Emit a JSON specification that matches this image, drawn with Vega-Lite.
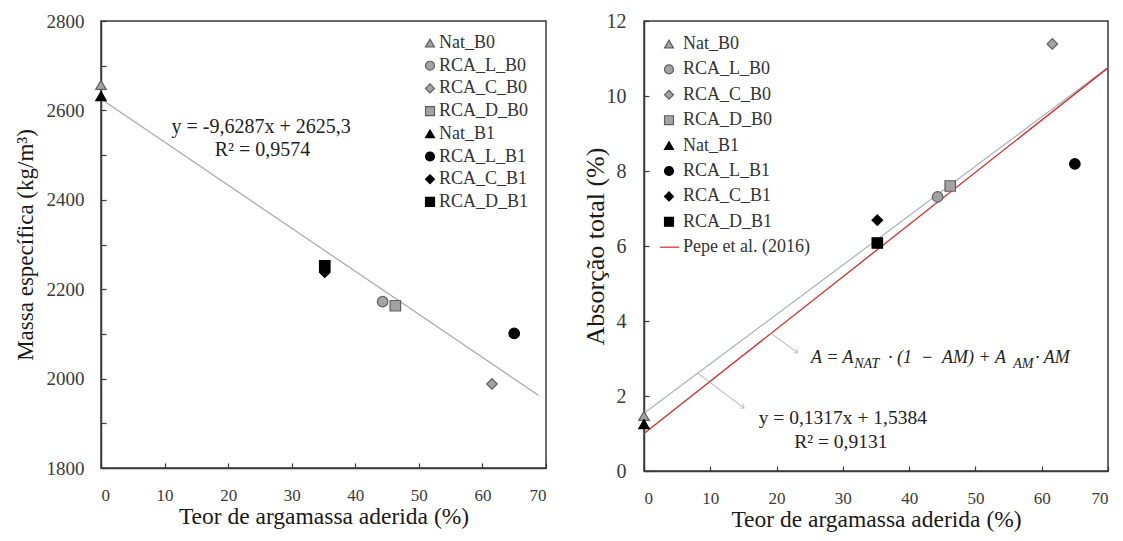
{
  "$schema": "https://vega.github.io/schema/vega-lite/v6.json",
  "padding": {"left": 13, "top": 10, "right": 6, "bottom": 6},
  "background": "white",
  "config": {
    "font": "Liberation Serif, Times New Roman, serif",
    "view": {"stroke": "#3a3a3a", "strokeWidth": 1.5},
    "axis": {
      "grid": false,
      "domainColor": "#3a3a3a",
      "domainWidth": 1.5,
      "tickColor": "#3a3a3a",
      "tickWidth": 1.2,
      "tickSize": -5,
      "labelFont": "Liberation Serif, Times New Roman, serif",
      "labelColor": "#3a3a3a",
      "titleFont": "Liberation Serif, Times New Roman, serif",
      "titleFontWeight": "normal",
      "titleColor": "#1a1a1a",
      "titleFontSize": 23.5
    },
    "axisX": {"labelFontSize": 17, "labelPadding": 24, "titlePadding": 1, "labelAngle": 0},
    "legend": {
      "labelFont": "Liberation Serif, Times New Roman, serif",
      "labelFontSize": 18,
      "labelColor": "#333333",
      "symbolSize": 80,
      "symbolStrokeWidth": 1.2,
      "padding": 0
    }
  },
  "datasets": {
    "left": [
      {"series": "Nat_B0", "x": 0, "y": 2657},
      {"series": "Nat_B1", "x": 0, "y": 2632},
      {"series": "RCA_D_B1", "x": 35.2, "y": 2252},
      {"series": "RCA_C_B1", "x": 35.2, "y": 2238},
      {"series": "RCA_L_B0", "x": 44.3, "y": 2172},
      {"series": "RCA_D_B0", "x": 46.3, "y": 2163},
      {"series": "RCA_C_B0", "x": 61.5, "y": 1988},
      {"series": "RCA_L_B1", "x": 65.0, "y": 2101}
    ],
    "right": [
      {"series": "Nat_B0", "x": 0, "y": 1.47},
      {"series": "Nat_B1", "x": 0, "y": 1.25},
      {"series": "RCA_D_B1", "x": 35.2, "y": 6.08},
      {"series": "RCA_C_B1", "x": 35.2, "y": 6.69},
      {"series": "RCA_L_B0", "x": 44.3, "y": 7.31},
      {"series": "RCA_D_B0", "x": 46.2, "y": 7.6},
      {"series": "RCA_C_B0", "x": 61.6, "y": 11.39},
      {"series": "RCA_L_B1", "x": 65.0, "y": 8.19}
    ],
    "leftTrend": [{"x": 0, "y": 2625.3}, {"x": 68.8, "y": 1962.8}],
    "rightTrend": [{"x": 0, "y": 1.54}, {"x": 70, "y": 10.76}],
    "pepe": [{"x": 0, "y": 1.0}, {"x": 70, "y": 10.75}],
    "leftText": [
      {"text": "y = -9,6287x + 2625,3", "x": 25.2, "y": 2549},
      {"text": "R² = 0,9574", "x": 25.4, "y": 2498}
    ],
    "rightText": [
      {"text": "y = 0,1317x + 1,5384", "x": 30.0, "y": 1.25},
      {"text": "R² = 0,9131", "x": 29.7, "y": 0.61}
    ],
    "formulaMain": [
      {"text": "A = A", "x": 25.2, "y": 2.88},
      {"text": "· (1\u2002−\u2002AM) + A", "x": 36.8, "y": 2.88},
      {"text": "· AM", "x": 59.0, "y": 2.88}
    ],
    "formulaSub": [
      {"text": "NAT", "x": 31.7, "y": 2.76},
      {"text": "AM", "x": 55.7, "y": 2.76}
    ],
    "arrows": [
      {"x": 19.2, "y": 3.67, "x2": 23.2, "y2": 3.15},
      {"x": 8.1, "y": 2.61, "x2": 15.1, "y2": 1.68}
    ]
  },
  "hconcat": [
    {
      "width": 445,
      "height": 447,
      "layer": [
        {
          "data": {"name": "leftTrend"},
          "mark": {"type": "line", "color": "#a8a8a8", "strokeWidth": 1.2},
          "encoding": {
            "x": {"field": "x", "type": "quantitative", "scale": {"domain": [0, 70]},
              "axis": {"title": "Teor de argamassa aderida (%)", "values": [0,5,10,15,20,25,30,35,40,45,50,55,60,65,70], "labelExpr": "datum.value % 10 === 0 ? datum.label : ''"}},
            "y": {"field": "y", "type": "quantitative", "scale": {"domain": [1800, 2800]},
              "axis": {"title": "Massa específica (kg/m³)", "titleFontSize": 23, "labelFontSize": 19, "labelPadding": 22, "titlePadding": 9, "values": [1800,1900,2000,2100,2200,2300,2400,2500,2600,2700,2800], "labelExpr": "datum.value % 200 === 0 ? datum.value : ''"}}
          }
        },
        {
          "data": {"name": "left"},
          "mark": {"type": "point", "filled": true, "size": 110, "strokeWidth": 1.2, "opacity": 1},
          "encoding": {
            "x": {"field": "x", "type": "quantitative"},
            "y": {"field": "y", "type": "quantitative"},
            "shape": {"field": "series", "type": "nominal", "title": null,
              "scale": {"domain": ["Nat_B0","RCA_L_B0","RCA_C_B0","RCA_D_B0","Nat_B1","RCA_L_B1","RCA_C_B1","RCA_D_B1"],
                "range": ["triangle-up","circle","diamond","square","triangle-up","circle","diamond","square"]},
              "legend": {"orient": "none", "legendX": 320, "legendY": 13, "rowPadding": 4.7, "labelOffset": 0}},
            "fill": {"field": "series", "type": "nominal", "title": null,
              "scale": {"domain": ["Nat_B0","RCA_L_B0","RCA_C_B0","RCA_D_B0","Nat_B1","RCA_L_B1","RCA_C_B1","RCA_D_B1"],
                "range": ["#a3a3a3","#a3a3a3","#a3a3a3","#a3a3a3","#000000","#000000","#000000","#000000"]},
              "legend": {"orient": "none", "legendX": 320, "legendY": 13, "rowPadding": 4.7, "labelOffset": 0}},
            "stroke": {"field": "series", "type": "nominal", "title": null,
              "scale": {"domain": ["Nat_B0","RCA_L_B0","RCA_C_B0","RCA_D_B0","Nat_B1","RCA_L_B1","RCA_C_B1","RCA_D_B1"],
                "range": ["#5e5e5e","#5e5e5e","#5e5e5e","#5e5e5e","#000000","#000000","#000000","#000000"]},
              "legend": {"orient": "none", "legendX": 320, "legendY": 13, "rowPadding": 4.7, "labelOffset": 0}}
          }
        },
        {
          "data": {"name": "leftText"},
          "mark": {"type": "text", "font": "Liberation Serif, Times New Roman, serif", "fontSize": 20, "color": "#222222", "align": "center", "baseline": "alphabetic"},
          "encoding": {
            "x": {"field": "x", "type": "quantitative"},
            "y": {"field": "y", "type": "quantitative"},
            "text": {"field": "text"}
          }
        }
      ]
    },
    {
      "width": 464,
      "height": 450,
      "layer": [
        {
          "data": {"name": "rightTrend"},
          "mark": {"type": "line", "color": "#a9b3b6", "strokeWidth": 1.2},
          "encoding": {
            "x": {"field": "x", "type": "quantitative", "scale": {"domain": [0, 70]},
              "axis": {"title": "Teor de argamassa aderida (%)", "values": [0,5,10,15,20,25,30,35,40,45,50,55,60,65,70], "labelExpr": "datum.value % 10 === 0 ? datum.label : ''"}},
            "y": {"field": "y", "type": "quantitative", "scale": {"domain": [0, 12]},
              "axis": {"title": "Absorção total (%)", "titleFontSize": 26, "labelFontSize": 20, "labelPadding": 23, "titlePadding": -2, "values": [0,1,2,3,4,5,6,7,8,9,10,11,12], "labelExpr": "datum.value % 2 === 0 ? datum.label : ''"}}
          }
        },
        {
          "data": {"name": "pepe"},
          "mark": {"type": "line", "color": "#d42a2a", "strokeWidth": 1.3},
          "encoding": {
            "x": {"field": "x", "type": "quantitative"},
            "y": {"field": "y", "type": "quantitative"}
          }
        },
        {
          "data": {"name": "arrows"},
          "mark": {"type": "rule", "color": "#b0b0b0", "strokeWidth": 1},
          "encoding": {
            "x": {"field": "x", "type": "quantitative"},
            "y": {"field": "y", "type": "quantitative"},
            "x2": {"field": "x2"},
            "y2": {"field": "y2"}
          }
        },
        {
          "data": {"name": "arrows"},
          "mark": {"type": "point", "shape": "M -1 -0.8 L 0 0 L -1 0.8", "filled": false, "size": 50, "color": "#b0b0b0", "strokeWidth": 1, "angle": 36},
          "encoding": {
            "x": {"field": "x2", "type": "quantitative"},
            "y": {"field": "y2", "type": "quantitative"}
          }
        },
        {
          "data": {"name": "right"},
          "mark": {"type": "point", "filled": true, "size": 110, "strokeWidth": 1.2, "opacity": 1},
          "encoding": {
            "x": {"field": "x", "type": "quantitative"},
            "y": {"field": "y", "type": "quantitative"},
            "shape": {"field": "series", "type": "nominal", "title": null,
              "scale": {"domain": ["Nat_B0","RCA_L_B0","RCA_C_B0","RCA_D_B0","Nat_B1","RCA_L_B1","RCA_C_B1","RCA_D_B1","Pepe et al. (2016)"],
                "range": ["triangle-up","circle","diamond","square","triangle-up","circle","diamond","square","M -2 0 L 2.3 0"]},
              "legend": {"orient": "none", "legendX": 16, "legendY": 14, "rowPadding": 7.4, "labelOffset": 5}},
            "fill": {"field": "series", "type": "nominal", "title": null,
              "scale": {"domain": ["Nat_B0","RCA_L_B0","RCA_C_B0","RCA_D_B0","Nat_B1","RCA_L_B1","RCA_C_B1","RCA_D_B1","Pepe et al. (2016)"],
                "range": ["#a3a3a3","#a3a3a3","#a3a3a3","#a3a3a3","#000000","#000000","#000000","#000000","transparent"]},
              "legend": {"orient": "none", "legendX": 16, "legendY": 14, "rowPadding": 7.4, "labelOffset": 5}},
            "stroke": {"field": "series", "type": "nominal", "title": null,
              "scale": {"domain": ["Nat_B0","RCA_L_B0","RCA_C_B0","RCA_D_B0","Nat_B1","RCA_L_B1","RCA_C_B1","RCA_D_B1","Pepe et al. (2016)"],
                "range": ["#5e5e5e","#5e5e5e","#5e5e5e","#5e5e5e","#000000","#000000","#000000","#000000","#d42a2a"]},
              "legend": {"orient": "none", "legendX": 16, "legendY": 14, "rowPadding": 7.4, "labelOffset": 5}}
          }
        },
        {
          "data": {"name": "rightText"},
          "mark": {"type": "text", "font": "Liberation Serif, Times New Roman, serif", "fontSize": 19.5, "color": "#222222", "align": "center", "baseline": "alphabetic"},
          "encoding": {
            "x": {"field": "x", "type": "quantitative"},
            "y": {"field": "y", "type": "quantitative"},
            "text": {"field": "text"}
          }
        },
        {
          "data": {"name": "formulaMain"},
          "mark": {"type": "text", "font": "Liberation Serif, Times New Roman, serif", "fontStyle": "italic", "fontSize": 18, "color": "#222222", "align": "left", "baseline": "alphabetic"},
          "encoding": {
            "x": {"field": "x", "type": "quantitative"},
            "y": {"field": "y", "type": "quantitative"},
            "text": {"field": "text"}
          }
        },
        {
          "data": {"name": "formulaSub"},
          "mark": {"type": "text", "font": "Liberation Serif, Times New Roman, serif", "fontStyle": "italic", "fontSize": 14, "color": "#222222", "align": "left", "baseline": "alphabetic"},
          "encoding": {
            "x": {"field": "x", "type": "quantitative"},
            "y": {"field": "y", "type": "quantitative"},
            "text": {"field": "text"}
          }
        }
      ]
    }
  ],
  "spacing": 33,
  "resolve": {
    "scale": {"shape": "independent", "fill": "independent", "stroke": "independent", "x": "independent", "y": "independent"},
    "legend": {"shape": "independent", "fill": "independent", "stroke": "independent"}
  }
}
